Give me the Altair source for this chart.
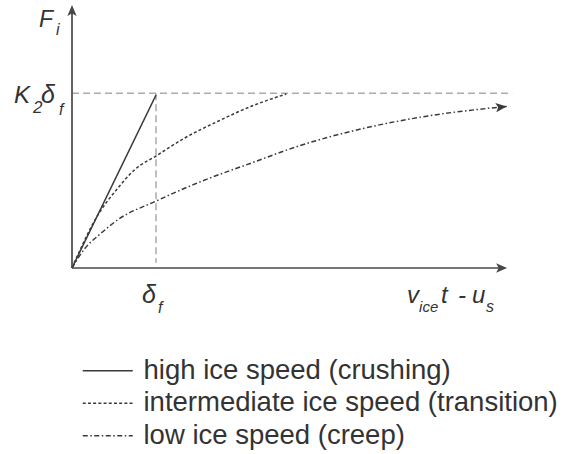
import altair as alt
import pandas as pd

# ---------------- data (x in units of delta_f, y in units of K2*delta_f) ----------------
series = [
    "high ice speed (crushing)",
    "intermediate ice speed (transition)",
    "low ice speed (creep)",
]
high_x = [0.0, 1.0]
high_y = [0.0, 0.99]
inter_x = [0.0, 0.31, 0.548, 0.746, 1.0, 1.341, 1.738, 2.135, 2.551]
inter_y = [0.0, 0.305, 0.458, 0.563, 0.641, 0.744, 0.840, 0.926, 0.996]
low_x = [0.0, 0.15, 0.349, 0.548, 0.996, 1.540, 2.135, 2.690, 3.389, 4.183, 5.175]
low_y = [0.0, 0.11, 0.200, 0.277, 0.382, 0.496, 0.601, 0.697, 0.790, 0.866, 0.925]

DELTA_F = 1.0        # position of delta_f on the x axis
K2_DELTA_F = 1.0     # level of K2*delta_f on the y axis
X_AXIS_END = 5.18
Y_AXIS_END = 1.505
REF_END = 5.24
VREF_BOTTOM = 0.03

# ---------------- layout ----------------
W, H = 563, 454
OX, OY = 72, 268          # pixel position of the origin
PX_X, PX_Y = 84, 174.7    # pixels per unit
xs = alt.Scale(domain=[-OX / PX_X, (W - OX) / PX_X], nice=False, zero=False)
ys = alt.Scale(domain=[-(H - OY) / PX_Y, OY / PX_Y], nice=False, zero=False)

INK = "#3a3a3a"
AXIS_INK = "#484848"
REF_INK = "#ababab"
FONT = "Liberation Sans"
ARROW = "M0,0L-2,-0.85L-1.55,0L-2,0.85Z"


def XD(v):
    return alt.XDatum(v, type="quantitative", scale=xs, axis=None)


def YD(v):
    return alt.YDatum(v, type="quantitative", scale=ys, axis=None)


rows = []
for name, xv, yv in zip(series, [high_x, inter_x, low_x], [high_y, inter_y, low_y]):
    for i, (a, b) in enumerate(zip(xv, yv)):
        rows.append({"speed": name, "x": a, "y": b, "i": i})
curves_df = pd.DataFrame(rows)

one = pd.DataFrame({"_": [0]})

curves = alt.Chart(curves_df).mark_line(
    color=INK, strokeWidth=1.5, interpolate="monotone", strokeCap="butt"
).encode(
    x=alt.X("x:Q", scale=xs, axis=None),
    y=alt.Y("y:Q", scale=ys, axis=None),
    order="i:Q",
    strokeDash=alt.StrokeDash(
        "speed:N",
        scale=alt.Scale(domain=series, range=[[1, 0], [3, 2.2], [5, 2.5, 1.5, 2.5]]),
        legend=alt.Legend(
            title=None,
            orient="none",
            legendX=94,
            legendY=357,
            symbolType="M-5,0L5,0",
            symbolSize=100,
            symbolStrokeWidth=1.3,
            symbolStrokeColor=INK,
            labelFont=FONT,
            labelFontSize=27.5,
            labelColor="#333333",
            labelOffset=22,
            labelLimit=1000,
            rowPadding=3.5,
            padding=0,
        ),
    ),
)

base = alt.Chart(one)

href = base.mark_rule(color=REF_INK, strokeWidth=1.5, strokeDash=[7, 4]).encode(
    x=XD(0), x2=alt.X2Datum(REF_END), y=YD(K2_DELTA_F)
)
vref = base.mark_rule(color=REF_INK, strokeWidth=1.5, strokeDash=[7, 4]).encode(
    x=XD(DELTA_F), y=YD(K2_DELTA_F), y2=alt.Y2Datum(VREF_BOTTOM)
)

xaxis = base.mark_rule(color=AXIS_INK, strokeWidth=1.7).encode(
    x=XD(0), x2=alt.X2Datum(X_AXIS_END - 0.05), y=YD(0)
)
yaxis = base.mark_rule(color=AXIS_INK, strokeWidth=1.7).encode(
    x=XD(0), y=YD(0), y2=alt.Y2Datum(Y_AXIS_END - 0.03)
)

arrows = []
for ax, ay, ang, col in [
    (X_AXIS_END, 0, 0, AXIS_INK),
    (0, Y_AXIS_END, 270, AXIS_INK),
    (low_x[-1], low_y[-1], 354, INK),
]:
    arrows.append(
        base.mark_point(
            shape=ARROW, filled=True, size=121, angle=ang, color=col, opacity=1, strokeWidth=0
        ).encode(x=XD(ax), y=YD(ay))
    )

# ---------------- math labels (pieces with subscripts) ----------------
label_texts = ["F", "i", "K", "2", "δ", "f", "δ", "f", "v", "ice", "t", "-", "u", "s"]
label_anchor = [
    (0, Y_AXIS_END), (0, Y_AXIS_END),
    (0, K2_DELTA_F), (0, K2_DELTA_F), (0, K2_DELTA_F), (0, K2_DELTA_F),
    (DELTA_F, 0), (DELTA_F, 0),
    (X_AXIS_END, 0), (X_AXIS_END, 0), (X_AXIS_END, 0), (X_AXIS_END, 0), (X_AXIS_END, 0), (X_AXIS_END, 0),
]
label_offset = [
    (-33, 22), (-16, 30),
    (-58, 10), (-39, 20), (-31, 10), (-13, 22),
    (-14, 35), (2, 45),
    (-100, 35), (-88, 44), (-66, 35), (-49, 35), (-35, 35), (-21, 44),
]
label_size = [23, 16, 24, 17, 25, 16, 25, 16, 24, 15, 24, 24, 24, 16]

texts = []
for t, (ax, ay), (dx, dy), fs in zip(label_texts, label_anchor, label_offset, label_size):
    texts.append(
        base.mark_text(
            text=t, dx=dx, dy=dy, align="left", baseline="alphabetic",
            font=FONT, fontStyle="italic", fontSize=fs, color="#333333",
        ).encode(x=XD(ax), y=YD(ay))
    )

chart = alt.layer(href, vref, curves, xaxis, yaxis, *arrows, *texts).properties(
    width=W,
    height=H,
    padding=0,
    autosize=alt.AutoSizeParams(type="none"),
    background="white",
).configure_view(stroke=None)

chart.save("out.html", embed_options={"renderer": "svg", "actions": False})
